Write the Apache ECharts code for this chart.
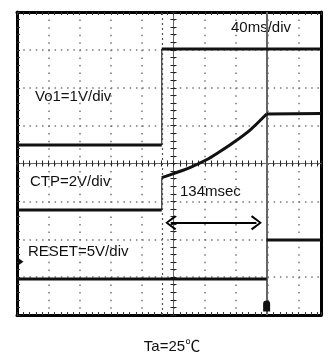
<!DOCTYPE html>
<html><head><meta charset="utf-8">
<script src="https://cdn.jsdelivr.net/npm/echarts@6/dist/echarts.min.js"></script>
<style>html,body{margin:0;padding:0;background:#fff}#c{width:332px;height:358px}</style>
</head><body><div id="c"></div>
<script>
// Horizontal: ms relative to screen centre (40 ms/div). Vertical: divisions relative to centre.
const timeMin = -200, timeMax = 188.5, timePerDiv = 40;
const divMin = -4, divMax = 4;
const vo1RiseTime = -15;          // Vo1 rising edge
const resetRiseTime = 119;        // RESET rising edge (134 ms later)
const vo1Low = 0.49, vo1High = 3.02;
const ctpLow = -1.23;
const ctpRampTimes  = [-15, 2, 21, 41.5, 57, 75.7, 97.8, 119];
const ctpRampValues = [-0.375, -0.251, -0.106, 0.092, 0.285, 0.541, 0.884, 1.307];
const ctpFinal = 1.32;
const resetLow = -3.05, resetHigh = -2.02;
const arrowStart = -3.5, arrowEnd = 106, arrowLevel = -1.563;
const triggerLevel = -2.593;
const labelVo1 = 'Vo1=1V/div', labelCtp = 'CTP=2V/div', labelReset = 'RESET=5V/div';
const labelTime = '40ms/div', labelDelay = '134msec', labelTemp = 'Ta=25℃';

const FONT = '15px "Liberation Sans", Arial, "Noto Sans CJK JP", sans-serif';
const TRACE = '#111';

function seg(data, opts) {
  return Object.assign({
    type: 'line', data: data, symbol: 'none', silent: true, animation: false,
    lineStyle: { color: TRACE, width: 3, cap: 'butt', join: 'miter' }, z: 5
  }, opts || {});
}
function thin(data) {
  return seg(data, { lineStyle: { color: '#333', width: 1.2 }, z: 4 });
}

const ctpRamp = ctpRampTimes.map((t, i) => [t, ctpRampValues[i]]);
const lastRamp = ctpRampTimes.length - 1;

const frameLine = { show: true, onZero: false, lineStyle: { color: '#000', width: 3 } };
const dotV = { show: true, lineStyle: { color: '#777', width: 1.5, type: [1.5, 6.07], dashOffset: 0 } };
const dotH = { show: true, lineStyle: { color: '#777', width: 1.5, type: [1.5, 4.76], dashOffset: 0 } };

const baseX = { type: 'value', min: timeMin, max: timeMax, interval: timePerDiv, axisLabel: { show: false } };
const baseY = { type: 'value', min: divMin, max: divMax, interval: 1, axisLabel: { show: false } };

const centreTick = (inside) => ({ show: true, inside: inside, length: 3, lineStyle: { color: '#222', width: 1 } });
const centreMinor = { show: true, splitNumber: 5, length: 3, lineStyle: { color: '#222', width: 1 } };

const option = {
  backgroundColor: '#fff',
  animation: false,
  grid: { left: 17, top: 12, right: 11, bottom: 43, containLabel: false },
  xAxis: [
    Object.assign({}, baseX, { position: 'bottom', axisLine: frameLine,
      axisTick: { show: true, inside: true, length: 3, lineStyle: { color: '#333' } },
      minorTick: { show: true, splitNumber: 5, length: 3, lineStyle: { color: '#333' } },
      splitLine: dotV }),
    Object.assign({}, baseX, { position: 'top', axisLine: frameLine,
      axisTick: { show: true, inside: true, length: 3, lineStyle: { color: '#333' } },
      minorTick: { show: true, splitNumber: 5, length: 3, lineStyle: { color: '#333' } },
      splitLine: { show: false } }),
    Object.assign({}, baseX, { position: 'bottom',
      axisLine: { show: true, onZero: true, onZeroAxisIndex: 0, lineStyle: { color: '#666', width: 1 } },
      axisTick: centreTick(true), minorTick: centreMinor, splitLine: { show: false } }),
    Object.assign({}, baseX, { position: 'bottom',
      axisLine: { show: true, onZero: true, onZeroAxisIndex: 0, lineStyle: { color: '#666', width: 1 } },
      axisTick: centreTick(false), minorTick: centreMinor, splitLine: { show: false } })
  ],
  yAxis: [
    Object.assign({}, baseY, { position: 'left', axisLine: frameLine,
      axisTick: { show: true, inside: true, length: 3, lineStyle: { color: '#333' } },
      minorTick: { show: true, splitNumber: 5, length: 3, lineStyle: { color: '#333' } },
      splitLine: dotH }),
    Object.assign({}, baseY, { position: 'right', axisLine: frameLine,
      axisTick: { show: false }, splitLine: { show: false } }),
    Object.assign({}, baseY, { position: 'left',
      axisLine: { show: true, onZero: true, onZeroAxisIndex: 0, lineStyle: { color: '#666', width: 1 } },
      axisTick: centreTick(true), minorTick: centreMinor, splitLine: { show: false } }),
    Object.assign({}, baseY, { position: 'left',
      axisLine: { show: true, onZero: true, onZeroAxisIndex: 0, lineStyle: { color: '#666', width: 1 } },
      axisTick: centreTick(false), minorTick: centreMinor, splitLine: { show: false } })
  ],
  series: [
    // cursors
    seg([], {
      markLine: {
        silent: true, symbol: 'none', label: { show: false }, animation: false,
        data: [
          { xAxis: vo1RiseTime, lineStyle: { color: '#555', width: 1.2, type: [2, 3] } },
          { xAxis: resetRiseTime, lineStyle: { color: '#666', width: 2, type: 'solid' } }
        ]
      }
    }),
    // Vo1
    seg([[timeMin, vo1Low], [vo1RiseTime, vo1Low]]),
    thin([[vo1RiseTime, vo1Low], [vo1RiseTime, vo1High]]),
    seg([[vo1RiseTime, vo1High], [timeMax, vo1High]]),
    // CTP
    seg([[timeMin, ctpLow], [vo1RiseTime, ctpLow]]),
    thin([[vo1RiseTime, ctpLow], [vo1RiseTime, ctpRampValues[0]]]),
    seg(ctpRamp, { smooth: 0.3 }),
    seg([[ctpRampTimes[lastRamp], ctpRampValues[lastRamp]], [ctpRampTimes[lastRamp] + 2, ctpFinal], [timeMax, ctpFinal]]),
    // RESET
    seg([[timeMin, resetLow], [resetRiseTime, resetLow]], {
      markPoint: {
        silent: true, animation: false, label: { show: false },
        data: [
          { coord: [resetRiseTime, divMin], symbol: 'path://M0,3 Q0,0 3,0 Q6,0 6,3 L6,10 L0,10 Z',
            symbolSize: [7, 11], symbolOffset: [0, -9], itemStyle: { color: '#111' } },
          { coord: [timeMin, triggerLevel], symbol: 'path://M0,0 L6,4 L0,8 Z',
            symbolSize: [5, 7], symbolOffset: [4, 0], itemStyle: { color: '#111' } }
        ]
      }
    }),
    thin([[resetRiseTime, resetLow], [resetRiseTime, resetHigh]]),
    seg([[resetRiseTime, resetHigh], [timeMax, resetHigh]]),
    // 134 ms double arrow
    seg([], {
      markLine: {
        silent: true, animation: false, label: { show: false },
        symbol: ['path://M7,0 L14,10 L12.4,11.3 L7,3 L1.6,11.3 L0,10 Z', 'path://M7,0 L14,10 L12.4,11.3 L7,3 L1.6,11.3 L0,10 Z'],
        symbolSize: [15, 11],
        lineStyle: { color: '#000', width: 2.2, type: 'solid' },
        data: [[{ coord: [arrowStart, arrowLevel] }, { coord: [arrowEnd, arrowLevel] }]]
      }
    })
  ],
  graphic: [
    { type: 'text', x: 35, y: 97, style: { text: labelVo1, font: FONT, fill: '#111', align: 'left', verticalAlign: 'middle' } },
    { type: 'text', x: 30, y: 182, style: { text: labelCtp, font: FONT, fill: '#111', align: 'left', verticalAlign: 'middle' } },
    { type: 'text', x: 28, y: 252, style: { text: labelReset, font: FONT, fill: '#111', align: 'left', verticalAlign: 'middle' } },
    { type: 'text', x: 231, y: 28, style: { text: labelTime, font: FONT, fill: '#111', align: 'left', verticalAlign: 'middle' } },
    { type: 'text', x: 180, y: 192, style: { text: labelDelay, font: FONT, fill: '#111', align: 'left', verticalAlign: 'middle' } },
    { type: 'text', x: 172, y: 347, style: { text: labelTemp, font: FONT, fill: '#111', align: 'center', verticalAlign: 'middle' } }
  ]
};

const chart = echarts.init(document.getElementById('c'), null, { renderer: 'canvas' });
chart.setOption(option);
</script>
</body></html>
